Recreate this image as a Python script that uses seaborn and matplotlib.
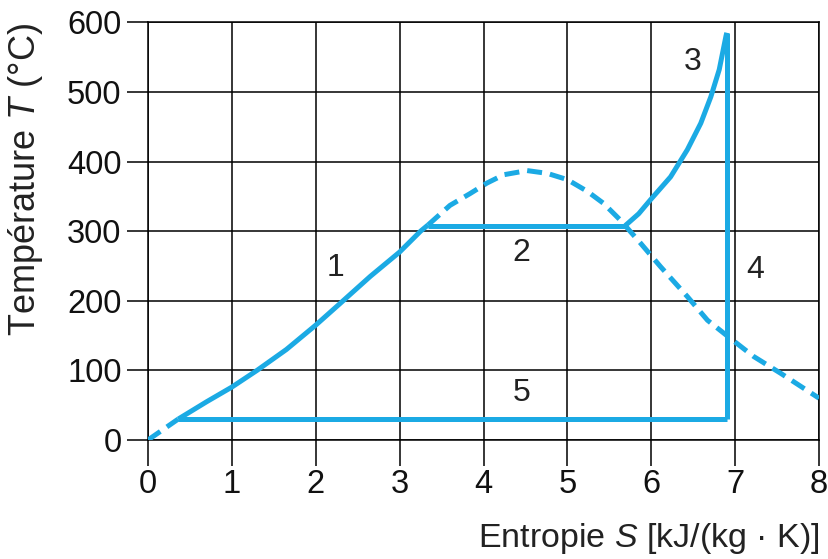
import matplotlib
matplotlib.use("Agg")
import matplotlib.pyplot as plt
import seaborn as sns
import pandas as pd

# ---- data ----
# process 1: heating of liquid (solid)
s1 = [0.36, 0.7, 1.0, 1.3, 1.65, 2.0, 2.28, 2.65, 3.0, 3.25, 3.34]
t1 = [30, 55, 76, 100, 130, 165, 195, 235, 270, 300, 309]
# process 2: evaporation
s2 = [3.34, 5.69]
t2 = [308, 308]
# process 3: superheating
s3 = [5.69, 5.85, 5.99, 6.23, 6.43, 6.59, 6.71, 6.81, 6.89, 6.9]
t3 = [308, 325, 345, 378, 417, 455, 493, 532, 580, 585]
# process 4: expansion (vertical)
s4 = [6.9, 6.9]
t4 = [585, 30]
# process 5: condensation
s5 = [6.9, 0.36]
t5 = [30, 30]
# saturation curve (dashed): liquid side start and dome / vapour side
sat_liq_s = [0.0, 0.36]
sat_liq_t = [0, 30]
sat_dome_s = [3.34, 3.60, 3.84, 4.04, 4.24, 4.52, 4.76, 5.00, 5.24, 5.43, 5.63,
              5.87, 6.11, 6.43, 6.67, 6.89, 7.22, 7.54, 8.0]
sat_dome_t = [309, 337, 354, 369, 381, 387, 383, 374, 357, 340, 316,
              283, 249, 206, 172, 151, 120, 96, 60]
# labels
lab_text = ["1", "2", "3", "4", "5"]
lab_s = [2.23, 4.45, 6.49, 7.24, 4.46]
lab_t = [247, 269, 543, 244, 68]

x_ticks = [0, 1, 2, 3, 4, 5, 6, 7, 8]
y_ticks = [0, 100, 200, 300, 400, 500, 600]

COLOR = "#1BAAE4"
LW = 3.6
FS = 23.5

sns.set_theme(style="white")
plt.rcParams["font.family"] = ["Liberation Sans", "DejaVu Sans"]
plt.rcParams["mathtext.fontset"] = "custom"
plt.rcParams["mathtext.it"] = "Liberation Sans:italic"
plt.rcParams["mathtext.rm"] = "Liberation Sans"

fig = plt.figure(figsize=(8.29, 5.59), dpi=100)
ax = fig.add_axes([0.1785, 0.2129, 0.8095, 0.7472])

def draw(s, t, dashed=False):
    df = pd.DataFrame({"S": s, "T": t})
    sns.lineplot(data=df, x="S", y="T", sort=False, ax=ax, color=COLOR,
                 linewidth=LW, estimator=None, zorder=3)
    line = ax.lines[-1]
    line.set_solid_capstyle("butt")
    line.set_solid_joinstyle("round")
    if dashed:
        line.set_dashes((3.0, 1.6))
        line.set_dash_capstyle("butt")
        line.set_dash_joinstyle("round")

draw(sat_liq_s, sat_liq_t, dashed=True)
draw(sat_dome_s, sat_dome_t, dashed=True)
draw(s1, t1)
draw(s2, t2)
draw(s3, t3)
draw(s4, t4)
draw(s5, t5)

for txt, xs, yt in zip(lab_text, lab_s, lab_t):
    ax.text(xs, yt, txt, fontsize=23, color="#222222", ha="center", va="center", zorder=4)

ax.set_xlim(0, 8)
ax.set_ylim(0, 600)
ax.set_xticks(x_ticks)
ax.set_yticks(y_ticks)
ax.set_xticklabels([str(v) for v in x_ticks])
ax.set_yticklabels([str(v) for v in y_ticks])
ax.grid(True, color="black", linewidth=1.1, zorder=1)
ax.set_axisbelow(True)
for sp in ax.spines.values():
    sp.set_color("black")
    sp.set_linewidth(1.1)
ax.tick_params(axis="x", direction="out", length=19, width=1.1, color="black",
               labelsize=FS, pad=2, labelcolor="#111111", bottom=True)
ax.tick_params(axis="y", direction="out", length=15, width=1.1, color="black",
               labelsize=FS, pad=4, labelcolor="#111111", left=True)

ax.set_xlabel(r"Entropie $S$ [kJ/(kg · K)]", fontsize=24.5, color="#222222", loc="right")
ax.set_ylabel(r"Température $T$ (°C)", fontsize=26, color="#222222", loc="top")
ax.yaxis.set_label_coords(-0.153, 1.0)
ax.xaxis.set_label_coords(1.0, -0.195)

fig.savefig("out.png", dpi=100)
